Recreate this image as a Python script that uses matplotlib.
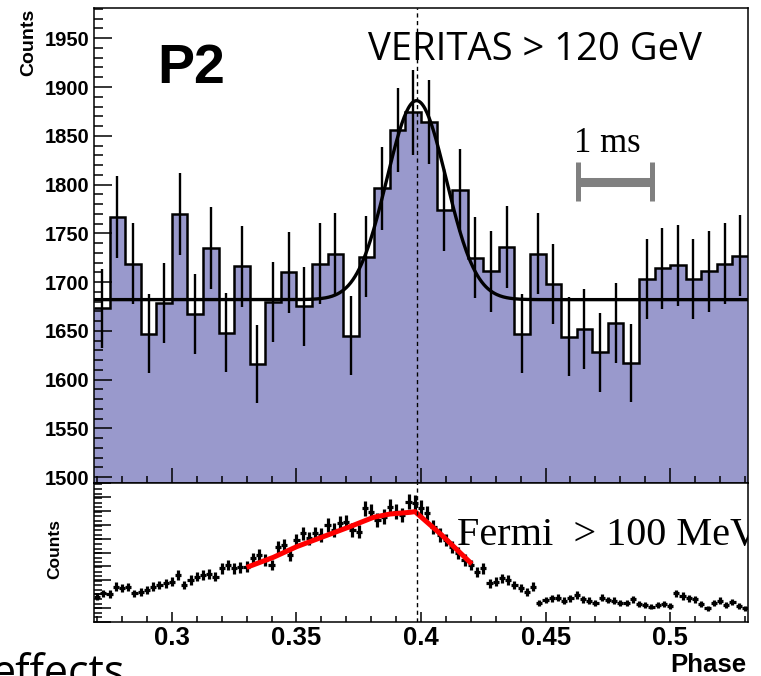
import numpy as np
import matplotlib.pyplot as plt
from matplotlib.ticker import MultipleLocator

# VERITAS phasogram, 42 bins of 0.00625 in phase
phase_lo = 0.26875
phase_hi = 0.53125
bin_w = 0.00625
veritas_counts = [1673, 1767, 1719, 1647, 1679, 1770, 1667, 1735, 1648, 1716,
                  1616, 1680, 1710, 1675, 1719, 1729, 1645, 1726, 1796, 1856,
                  1874, 1864, 1774, 1794, 1725, 1711, 1736, 1647, 1729, 1698,
                  1644, 1652, 1628, 1658, 1617, 1703, 1714, 1717, 1703, 1711,
                  1719, 1727]

# fit: constant + gaussian
fit_const = 1682
fit_amp = 204
fit_mu = 0.3982
fit_sigma = 0.0119

# Fermi phasogram (arbitrary units, 105 bins of 0.0025)
fermi_w = 0.0025
fermi_vals = [0.182, 0.206, 0.200, 0.254, 0.242, 0.250, 0.206, 0.218, 0.230, 0.254,
              0.266, 0.278, 0.290, 0.338, 0.266, 0.302, 0.326, 0.338, 0.345, 0.326,
              0.386, 0.410, 0.386, 0.393, 0.398, 0.458, 0.482, 0.446, 0.410, 0.542,
              0.554, 0.482, 0.590, 0.638, 0.602, 0.638, 0.626, 0.698, 0.662, 0.710,
              0.722, 0.662, 0.650, 0.818, 0.794, 0.734, 0.758, 0.830, 0.794, 0.770,
              0.866, 0.856, 0.820, 0.784, 0.686, 0.626, 0.590, 0.542, 0.494, 0.446,
              0.410, 0.362, 0.386, 0.278, 0.290, 0.314, 0.302, 0.266, 0.242, 0.218,
              0.254, 0.134, 0.158, 0.170, 0.176, 0.153, 0.170, 0.194, 0.163, 0.153,
              0.134, 0.176, 0.158, 0.153, 0.134, 0.139, 0.163, 0.129, 0.122, 0.110,
              0.122, 0.129, 0.115, 0.206, 0.187, 0.170, 0.163, 0.129, 0.098, 0.139,
              0.153, 0.122, 0.146, 0.115, 0.098]

# red fit on the Fermi peak
fermi_fit_x = [0.3300, 0.3407, 0.3501, 0.3608, 0.3715, 0.3809, 0.3876, 0.3956, 0.3976, 0.4083, 0.4204]
fermi_fit_y = [0.393, 0.465, 0.542, 0.614, 0.686, 0.753, 0.777, 0.789, 0.794, 0.626, 0.417]

peak_phase = 0.3985
ms_bar = [0.4630, 0.4927]

fill_col = '#9999cc'
tick_font = 'Liberation Sans'

fig = plt.figure(figsize=(7.61, 6.76), dpi=100)
W, H = 761, 676
ax1 = fig.add_axes([94 / W, 1 - 483 / H, 654 / W, 475 / H])
ax2 = fig.add_axes([94 / W, 1 - 622 / H, 654 / W, 139 / H])

# ---- top panel ----
counts = np.array(veritas_counts, dtype=float)
edges = phase_lo + bin_w * np.arange(len(counts) + 1)
centers = 0.5 * (edges[:-1] + edges[1:])
ax1.stairs(counts, edges, fill=True, color=fill_col, baseline=0, zorder=1)
ax1.stairs(counts, edges, color='black', lw=1.8, baseline=None, zorder=2)
ax1.errorbar(centers, counts, yerr=np.sqrt(counts), fmt='none', ecolor='black',
             elinewidth=1.7, capsize=0, zorder=3)
xf = np.linspace(phase_lo, phase_hi, 600)
ax1.plot(xf, fit_const + fit_amp * np.exp(-0.5 * ((xf - fit_mu) / fit_sigma) ** 2),
         color='black', lw=2.4, zorder=4)
ax1.axvline(peak_phase, color='black', lw=1.0, ls=(0, (3, 2.5)), zorder=5)

ax1.set_xlim(phase_lo, phase_hi)
ax1.set_ylim(1494, 1981)
ax1.yaxis.set_major_locator(MultipleLocator(50))
ax1.yaxis.set_minor_locator(MultipleLocator(10))
ax1.xaxis.set_major_locator(MultipleLocator(0.05))
ax1.xaxis.set_minor_locator(MultipleLocator(0.01))
ax1.tick_params(axis='y', which='major', direction='in', length=13, width=1.1, pad=3,
                labelsize=14.5)
ax1.tick_params(axis='y', which='minor', direction='in', length=6.5, width=1.1)
ax1.tick_params(axis='x', which='major', direction='in', length=11, width=1.1, labelbottom=False)
ax1.tick_params(axis='x', which='minor', direction='in', length=5, width=1.1)
for lab in ax1.get_yticklabels():
    lab.set_fontfamily(tick_font)
    lab.set_fontweight('bold')
for sp in ax1.spines.values():
    sp.set_linewidth(1.1)

fig.text(157 / W, 1 - 83 / H, 'P2', fontsize=40, fontweight='bold', family=tick_font,
         ha='left', va='baseline')
fig.text(368 / W, 1 - 60 / H, 'VERITAS > 120 GeV', fontsize=27.5, family='Open Sans',
         ha='left', va='baseline')
fig.text(574 / W, 1 - 152 / H, '1 ms', fontsize=25, family='Liberation Serif',
         ha='left', va='baseline')
ax1.plot(ms_bar, [1803, 1803], color='#808080', lw=6.5, solid_capstyle='butt', zorder=6)
for xb in ms_bar:
    ax1.plot([xb, xb], [1783, 1823], color='#808080', lw=3.6, solid_capstyle='butt', zorder=6)

fig.text(29 / W, 1 - 9 / H, 'Counts', rotation=90, fontsize=14, fontweight='bold',
         family=tick_font, ha='center', va='top')

# ---- bottom panel ----
fv = np.array(fermi_vals)
fe = phase_lo + fermi_w * np.arange(len(fv) + 1)
fc = 0.5 * (fe[:-1] + fe[1:])
ax2.errorbar(fc, fv, xerr=fermi_w / 2, yerr=0.06 * np.sqrt(fv), fmt='none',
             ecolor='black', elinewidth=2.3, capsize=0, zorder=3)
ax2.plot(fermi_fit_x, fermi_fit_y, color='red', lw=3.6, solid_capstyle='butt', zorder=4)
ax2.axvline(peak_phase, color='black', lw=1.0, ls=(0, (3, 2.5)), zorder=5)
ax2.text(0.4145, 0.554, 'Fermi  > 100 MeV', fontsize=29, family='Liberation Serif',
         ha='left', va='baseline', clip_on=True, zorder=6)

ax2.set_xlim(phase_lo, phase_hi)
ax2.set_ylim(0, 1)
ax2.xaxis.set_major_locator(MultipleLocator(0.05))
ax2.xaxis.set_minor_locator(MultipleLocator(0.01))
ax2.yaxis.set_major_locator(MultipleLocator(0.1))
ax2.yaxis.set_minor_locator(MultipleLocator(0.033))
ax2.tick_params(axis='x', which='major', direction='in', length=7, width=1.1, pad=3,
                labelsize=18.5)
ax2.tick_params(axis='x', which='minor', direction='in', length=4, width=1.1)
ax2.tick_params(axis='y', which='major', direction='in', length=12, width=1.1, labelleft=False)
ax2.tick_params(axis='y', which='minor', direction='in', length=6, width=1.1)
ax2.set_xticks([0.3, 0.35, 0.4, 0.45, 0.5])
ax2.set_xticklabels(['0.3', '0.35', '0.4', '0.45', '0.5'])
for lab in ax2.get_xticklabels():
    lab.set_fontfamily(tick_font)
    lab.set_fontweight('bold')
for sp in ax2.spines.values():
    sp.set_linewidth(1.1)

fig.text(55 / W, 1 - 549 / H, 'Counts', rotation=90, fontsize=12.5, fontweight='bold',
         family=tick_font, ha='center', va='center')
fig.text(746 / W, 1 - 672 / H, 'Phase', fontsize=18.5, fontweight='bold',
         family=tick_font, ha='right', va='baseline')

# slide text cut off at the bottom edge, as in the source slide
fig.text(-8 / W, 1 - 686 / H, 'effects', fontsize=31, family='Open Sans',
         ha='left', va='baseline')

fig.savefig('out.png', dpi=100)
